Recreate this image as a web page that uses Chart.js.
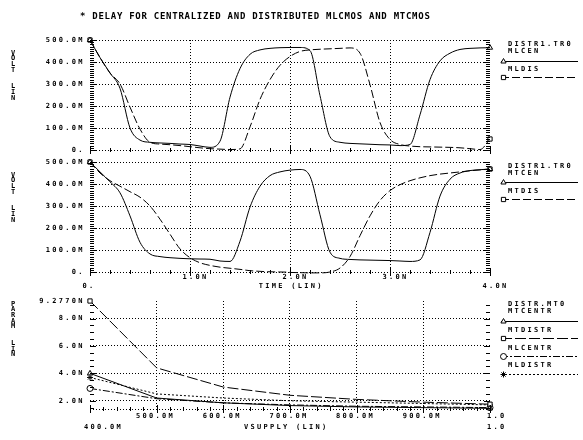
<!DOCTYPE html>
<html>
<head>
<meta charset="utf-8">
<script src="https://cdn.jsdelivr.net/npm/chart.js@4.4.1/dist/chart.umd.min.js"></script>
<style>
html, body { margin: 0; padding: 0; background: #fff; }
#wrap { position: relative; width: 583px; height: 440px; overflow: hidden; }
canvas { position: absolute; left: 0; top: 0; }
</style>
</head>
<body>
<div id="wrap">
  <canvas id="topChart" width="583" height="440"></canvas>
  <canvas id="midChart" width="583" height="440"></canvas>
  <canvas id="botChart" width="583" height="440"></canvas>
</div>
<script>
// ---- data (time in ns, voltages in mV, delays in ns) ----
const time = [0.0, 0.1, 0.2, 0.3, 0.4, 0.5, 0.6, 0.7, 0.8, 0.9,
              1.0, 1.1, 1.2, 1.3, 1.4, 1.5, 1.6, 1.7, 1.8, 1.9,
              2.0, 2.1, 2.2, 2.3, 2.4, 2.5, 2.6, 2.7, 2.8, 2.9,
              3.0, 3.1, 3.2, 3.3, 3.4, 3.5, 3.6, 3.7, 3.8, 3.9, 4.0];

const mlcen = [500, 420, 350, 280, 100, 45, 35, 32, 30, 27,
               25, 18, 12, 40, 240, 370, 435, 455, 462, 465,
               466, 466, 452, 247, 60, 35, 30, 28, 26, 24,
               23, 20, 25, 160, 320, 405, 440, 457, 462, 464, 465];
const mldis = [500, 420, 350, 300, 195, 95, 35, 27, 24, 20,
               15, 10, 6, 4, 2, 5, 105, 230, 320, 385,
               425, 448, 455, 458, 460, 462, 464, 440, 297, 125,
               48, 25, 18, 15, 14, 13, 12, 10, 6, 2, 50];

const mtcen = [500, 455, 410, 360, 255, 135, 82, 70, 65, 62,
               60, 59, 58, 50, 48, 140, 295, 390, 438, 455,
               463, 466, 435, 260, 90, 62, 57, 55, 54, 53,
               52, 50, 48, 55, 180, 345, 422, 450, 461, 465, 468];
const mtdis = [500, 450, 415, 390, 365, 340, 300, 240, 172, 105,
               65, 42, 30, 22, 17, 12, 6, 3, 1, 0,
               -2, -3, -4, -4, 0, 18, 70, 165, 255, 325,
               370, 397, 415, 428, 438, 445, 450, 455, 460, 464, 468];

const vsupply = [0.4, 0.5, 0.6, 0.7, 0.8, 0.9, 1.0];
const mtcentr = [4.0, 2.2, 1.85, 1.65, 1.55, 1.5, 1.45];
const mtdistr = [9.277, 4.4, 3.0, 2.4, 2.1, 1.9, 1.75];
const mlcentr = [2.9, 2.15, 1.85, 1.7, 1.6, 1.55, 1.5];
const mldistr = [3.7, 2.5, 2.2, 2.0, 1.9, 1.8, 1.7];

// ---- tick labels ----
const voltTicks = [0, 100, 200, 300, 400, 500];
const voltLabels = ['0.', '100.0M', '200.0M', '300.0M', '400.0M', '500.0M'];
const timeTicks = [1, 2, 3];
const timeLabels = ['1.0N', '2.0N', '3.0N'];
const paramTicks = [2, 4, 6, 8, 9.277];
const paramLabels = ['2.0N', '4.0N', '6.0N', '8.0N', '9.2770N'];
const vsTicks = [0.5, 0.6, 0.7, 0.8, 0.9];
const vsLabels = ['500.0M', '600.0M', '700.0M', '800.0M', '900.0M'];

const TITLE = '* DELAY FOR CENTRALIZED AND DISTRIBUTED MLCMOS AND MTCMOS';

// ---- text helpers (plotter style mono text) ----
const ink = '#000';
const SMALL = 'bold 7px "DejaVu Sans Mono"';
const P = 6.5, G = 4.2;

function put(ctx, s, x, y, font, pitch) {
    ctx.font = font || SMALL;
    ctx.textAlign = 'left';
    ctx.textBaseline = 'middle';
    for (let i = 0; i < s.length; i++) {
        if (s[i] !== ' ') ctx.fillText(s[i], x + i * (pitch || P), y);
    }
}
const wid = s => (s.length - 1) * P + G;
const putRight = (ctx, s, xr, y) => put(ctx, s, xr - wid(s), y);
const putCenter = (ctx, s, cx, y) => put(ctx, s, cx - wid(s) / 2, y);
const putDot = (ctx, s, xt, y) => put(ctx, s, xt - s.indexOf('.') * P - G / 2 + 1, y);

function column(ctx, s, x, y0, pitch) {
    ctx.font = SMALL;
    ctx.textAlign = 'center';
    ctx.textBaseline = 'middle';
    for (let i = 0; i < s.length; i++) {
        if (s[i] !== ' ') ctx.fillText(s[i], x, y0 + i * pitch);
    }
}

function yTicks(chart, vmin, step, n, isMajor) {
    const { ctx, chartArea: a } = chart, y = chart.scales.y;
    ctx.beginPath();
    for (let i = 0; i <= n; i++) {
        const v = vmin + i * step;
        const py = Math.round(y.getPixelForValue(v)) + 0.5;
        const L = isMajor(v) ? 6 : 4;
        ctx.moveTo(a.left, py); ctx.lineTo(a.left + L, py);
        ctx.moveTo(a.right - L, py); ctx.lineTo(a.right, py);
    }
    ctx.stroke();
}

function xTicks(chart, vmin, step, n, isMajor) {
    const { ctx, chartArea: a } = chart, x = chart.scales.x;
    const yb = Math.round(a.bottom);
    ctx.beginPath();
    for (let i = 0; i <= n; i++) {
        const v = vmin + i * step;
        const px = Math.round(x.getPixelForValue(v)) + 0.5;
        const L = isMajor(v) ? 4 : 2;
        ctx.moveTo(px, yb - L); ctx.lineTo(px, yb + L);
    }
    ctx.stroke();
}

function legend(ctx, header, y0, items) {
    put(ctx, header, 508, y0);
    items.forEach(it => {
        put(ctx, it.label, 508, it.ty);
        ctx.save();
        ctx.setLineDash(it.dash);
        ctx.beginPath();
        ctx.moveTo(501, it.my + 0.5); ctx.lineTo(578, it.my + 0.5);
        ctx.stroke();
        ctx.restore();
        ctx.fillStyle = '#fff';
        Chart.helpers.drawPoint(ctx, { pointStyle: it.marker, radius: 3, rotation: 0, borderWidth: 1 }, 503.5, it.my + 0.5);
        ctx.fillStyle = ink;
    });
}

// ---- dataset helpers ----
function series(label, xs, ys, dash, marker, smooth) {
    const n = xs.length;
    return {
        label: label,
        data: xs.map((v, i) => ({ x: v, y: ys[i] })),
        borderColor: ink,
        borderWidth: 1,
        borderDash: dash,
        cubicInterpolationMode: smooth ? 'monotone' : 'default',
        tension: 0,
        pointStyle: marker,
        pointRadius: c => (c.dataIndex === 0 || c.dataIndex === n - 1) ? 3 : 0,
        pointHoverRadius: 0,
        pointBackgroundColor: '#fff',
        pointBorderColor: ink,
        pointBorderWidth: 1,
        fill: false,
        clip: 6
    };
}

const near = (a, b) => Math.abs(a - b) < 1e-6;

function opts(top, bottom, xScale, yScale) {
    return {
        responsive: false,
        animation: false,
        devicePixelRatio: 1,
        layout: { padding: { left: 0, right: 93, top: top, bottom: 440 - bottom } },
        plugins: { legend: { display: false }, tooltip: { enabled: false } },
        scales: { x: xScale, y: yScale }
    };
}

const dotted = { display: false, dash: [1, 2] };

const timeAxis = {
    type: 'linear', min: 0, max: 4,
    ticks: { display: false, stepSize: 1 },
    grid: { color: c => (c.tick && (near(c.tick.value, 0) || near(c.tick.value, 4))) ? 'rgba(0,0,0,0)' : ink, drawTicks: false, lineWidth: 1 },
    border: dotted,
    afterFit: s => { s.height = 0; }
};
const voltAxis = {
    type: 'linear', min: 0, max: 500,
    ticks: { display: false, stepSize: 100 },
    grid: { color: ink, drawTicks: false, lineWidth: 1 },
    border: dotted,
    afterFit: s => { s.width = 90; }
};

// ---- top panel: MLCMOS ----
const topChart = new Chart(document.getElementById('topChart').getContext('2d'), {
    type: 'line',
    data: {
        datasets: [
            series('MLCEN', time, mlcen, [], 'triangle', true),
            series('MLDIS', time, mldis, [8, 3], 'rect', true)
        ]
    },
    options: opts(40, 150, timeAxis, voltAxis),
    plugins: [{
        id: 'frameTop',
        afterDraw(chart) {
            const ctx = chart.ctx, y = chart.scales.y;
            ctx.save();
            ctx.strokeStyle = ink; ctx.fillStyle = ink; ctx.lineWidth = 1;
            put(ctx, TITLE, 80, 16.5, 'bold 9px "DejaVu Sans Mono"', 6.15);
            yTicks(chart, 0, 10, 50, v => v % 100 === 0);
            xTicks(chart, 0, 0.2, 20, v => near(v % 1, 0) || near(v % 1, 1));
            voltTicks.forEach((v, i) => putRight(ctx, voltLabels[i], 82.5, y.getPixelForValue(v)));
            column(ctx, 'VOLT  LIN', 13, 53, 5.6);
            legend(ctx, 'DISTR1.TR0', 44, [
                { label: 'MLCEN', ty: 51, my: 61, dash: [], marker: 'triangle' },
                { label: 'MLDIS', ty: 69.5, my: 77, dash: [8, 3], marker: 'rect' }
            ]);
            ctx.restore();
        }
    }]
});

// ---- middle panel: MTCMOS ----
const midChart = new Chart(document.getElementById('midChart').getContext('2d'), {
    type: 'line',
    data: {
        datasets: [
            series('MTCEN', time, mtcen, [], 'triangle', true),
            series('MTDIS', time, mtdis, [8, 3], 'rect', true)
        ]
    },
    options: opts(162, 272, timeAxis, voltAxis),
    plugins: [{
        id: 'frameMid',
        afterDraw(chart) {
            const ctx = chart.ctx, x = chart.scales.x, y = chart.scales.y;
            ctx.save();
            ctx.strokeStyle = ink; ctx.fillStyle = ink; ctx.lineWidth = 1;
            yTicks(chart, 0, 10, 50, v => v % 100 === 0);
            xTicks(chart, 0, 0.2, 20, v => near(v % 1, 0) || near(v % 1, 1));
            voltTicks.forEach((v, i) => putRight(ctx, voltLabels[i], 82.5, y.getPixelForValue(v)));
            timeTicks.forEach((v, i) => putDot(ctx, timeLabels[i], x.getPixelForValue(v), 277));
            putDot(ctx, '0.', x.getPixelForValue(0), 286.5);
            putDot(ctx, '4.0N', x.getPixelForValue(4), 286.5);
            putCenter(ctx, 'TIME (LIN)', x.getPixelForValue(2), 286);
            column(ctx, 'VOLT  LIN', 13, 175, 5.6);
            legend(ctx, 'DISTR1.TR0', 166, [
                { label: 'MTCEN', ty: 173, my: 182, dash: [], marker: 'triangle' },
                { label: 'MTDIS', ty: 191.5, my: 199, dash: [8, 3], marker: 'rect' }
            ]);
            ctx.restore();
        }
    }]
});

// ---- bottom panel: delay vs supply ----
const botChart = new Chart(document.getElementById('botChart').getContext('2d'), {
    type: 'line',
    data: {
        datasets: [
            series('MTCENTR', vsupply, mtcentr, [], 'triangle', false),
            series('MTDISTR', vsupply, mtdistr, [11, 3], 'rect', false),
            series('MLCENTR', vsupply, mlcentr, [7, 2, 2, 2], 'circle', false),
            series('MLDISTR', vsupply, mldistr, [2, 2], 'star', false)
        ]
    },
    options: opts(301, 409, {
        type: 'linear', min: 0.4, max: 1.0,
        ticks: { display: false, stepSize: 0.1 },
        grid: { color: c => (c.tick && (near(c.tick.value, 0.4) || near(c.tick.value, 1))) ? 'rgba(0,0,0,0)' : ink, drawTicks: false, lineWidth: 1 },
        border: dotted,
        afterFit: s => { s.height = 0; }
    }, {
        type: 'linear', min: 1.4, max: 9.277,
        ticks: { display: false },
        afterBuildTicks: s => { s.ticks = [1.4].concat(paramTicks).map(v => ({ value: v })); },
        grid: { color: c => (c.tick && near(c.tick.value, 9.277)) ? 'rgba(0,0,0,0)' : ink, drawTicks: false, lineWidth: 1 },
        border: dotted,
        afterFit: s => { s.width = 90; }
    }),
    plugins: [{
        id: 'frameBot',
        afterDraw(chart) {
            const ctx = chart.ctx, x = chart.scales.x, y = chart.scales.y;
            ctx.save();
            ctx.strokeStyle = ink; ctx.fillStyle = ink; ctx.lineWidth = 1;
            yTicks(chart, 1.5, 0.5, 15, v => near(v % 2, 0));
            xTicks(chart, 0.4, 0.02, 30, v => near(Math.round(v * 100) % 10, 0));
            paramTicks.forEach((v, i) => putRight(ctx, paramLabels[i], 82.5, y.getPixelForValue(v)));
            vsTicks.forEach((v, i) => putDot(ctx, vsLabels[i], x.getPixelForValue(v), 416.5));
            put(ctx, '1.0', 487, 416.5);
            put(ctx, '400.0M', 84, 427.5);
            putCenter(ctx, 'VSUPPLY (LIN)', 285, 427.5);
            put(ctx, '1.0', 487, 427.5);
            column(ctx, 'PARAM  LIN', 13, 304, 5.6);
            legend(ctx, 'DISTR.MT0', 304, [
                { label: 'MTCENTR', ty: 311.5, my: 321, dash: [], marker: 'triangle' },
                { label: 'MTDISTR', ty: 330, my: 338, dash: [11, 3], marker: 'rect' },
                { label: 'MLCENTR', ty: 348, my: 356, dash: [7, 2, 2, 2], marker: 'circle' },
                { label: 'MLDISTR', ty: 365.5, my: 374, dash: [2, 2], marker: 'star' }
            ]);
            ctx.restore();
        }
    }]
});
</script>
</body>
</html>
